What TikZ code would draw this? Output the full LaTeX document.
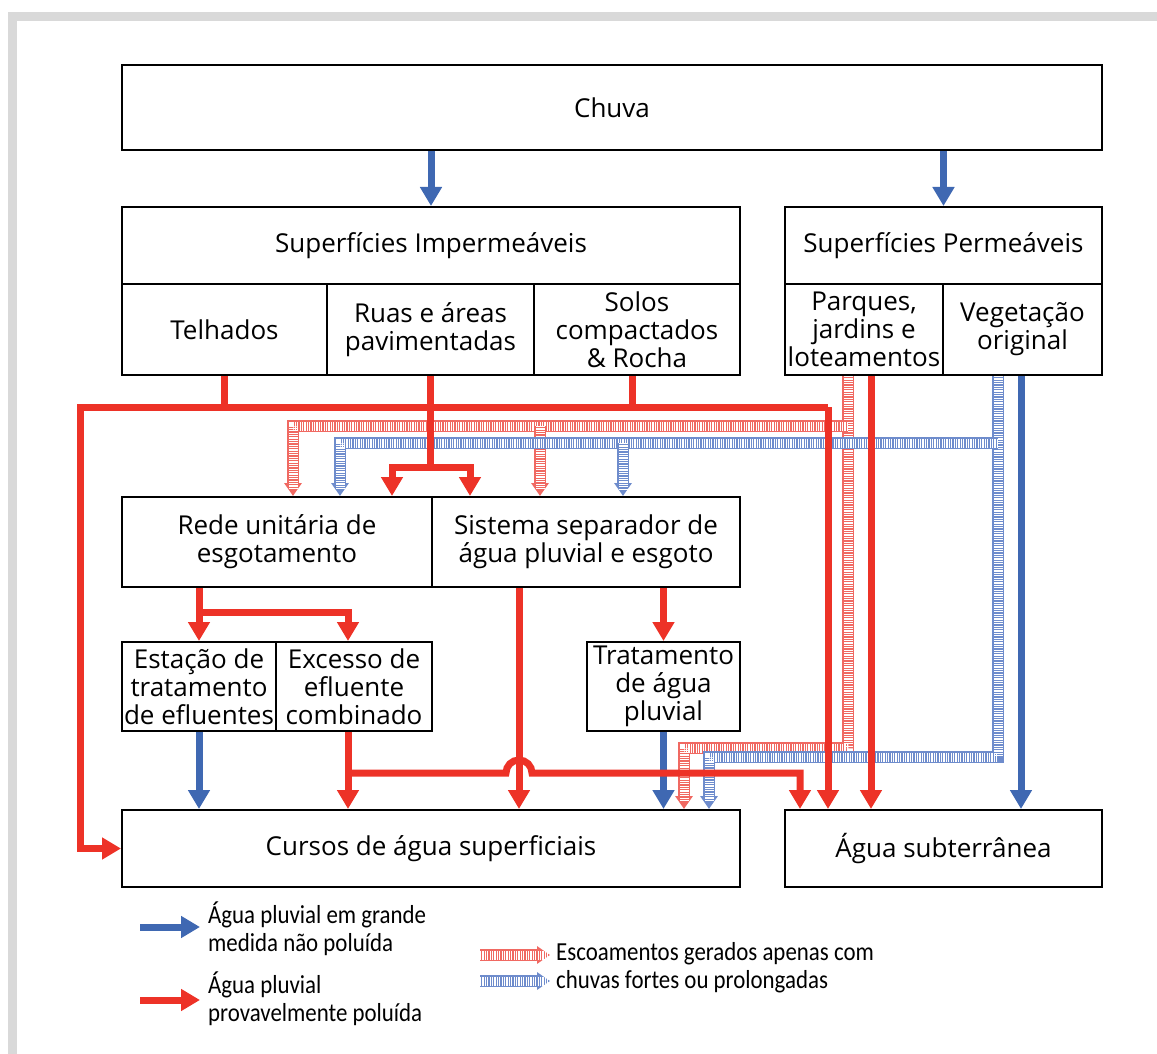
\documentclass[tikz,border=0pt]{standalone}
\usepackage{fontspec}
\setmainfont{Open Sans}
\newfontfamily\legendfont[FakeStretch=0.88]{Carlito}
\usetikzlibrary{arrows.meta}

\definecolor{rainred}{RGB}{237,50,39}
\definecolor{rainblue}{RGB}{63,104,178}
\definecolor{stormred}{RGB}{240,105,98}
\definecolor{stormblue}{RGB}{110,140,204}
\definecolor{framegray}{RGB}{217,217,217}

\begin{document}
\begin{tikzpicture}[x=1pt,y=-1pt,
    box/.style={draw, line width=2pt, inner sep=0pt, align=center,
      font=\fontsize{26}{28}\selectfont},
    legend/.style={anchor=west, inner sep=0pt, align=left,
      font=\legendfont\fontsize{26}{28}\selectfont},
    pipe/.style={draw=rainred, line width=7pt},
    polluted/.style={pipe, -{Triangle[width=21pt,length=19pt]}},
    clean/.style={draw=rainblue, line width=7pt, -{Triangle[width=21pt,length=19pt]}},
    storm/.style={line width=12pt, -{Triangle[width=17pt,length=13pt]},
      postaction={draw=white, -, line width=9pt, dash pattern=on 1.2pt off 1.2pt, shorten >=7pt}},
    stormred/.style={storm, draw=stormred},
    stormblue/.style={storm, draw=stormblue}]
  \useasboundingbox (0,0) rectangle (1157,1054);
  \fill[framegray] (8,12) rectangle (1157,21);
  \fill[framegray] (8,12) rectangle (17,1054);

  \node[box, minimum width=980pt, minimum height=85pt] (chuva) at (612,107.5) {Chuva};
  \node[box, minimum width=618pt, minimum height=77pt] (imp) at (431,245.5) {Superfícies Impermeáveis};
  \node[box, minimum width=205pt, minimum height=91pt] (telh) at (224.5,329.5) {Telhados};
  \node[box, minimum width=207pt, minimum height=91pt] (ruas) at (430.5,329.5) {Ruas e áreas\\pavimentadas};
  \node[box, minimum width=206pt, minimum height=91pt] (solos) at (637,329.5) {Solos\\compactados\\\& Rocha};
  \node[box, minimum width=317pt, minimum height=77pt] (perm) at (943.5,245.5) {Superfícies Permeáveis};
  \node[box, minimum width=158pt, minimum height=91pt] (parq) at (864,329.5) {Parques,\\jardins e\\loteamentos};
  \node[box, minimum width=159pt, minimum height=91pt] (veg) at (1022.5,329.5) {Vegetação\\original};
  \node[box, minimum width=310pt, minimum height=90pt] (rede) at (277,542) {Rede unitária de\\esgotamento};
  \node[box, minimum width=308pt, minimum height=90pt] (sist) at (586,542) {Sistema separador de\\água pluvial e esgoto};
  \node[box, minimum width=154pt, minimum height=89pt] (est) at (199,686.5) {Estação de\\tratamento\\de efluentes};
  \node[box, minimum width=156pt, minimum height=89pt] (exc) at (354,686.5) {Excesso de\\efluente\\combinado};
  \node[box, minimum width=153pt, minimum height=89pt] (trat) at (663.5,686.5) {Tratamento\\de água\\pluvial};
  \node[box, minimum width=618pt, minimum height=77pt] (cursos) at (431,848.5) {Cursos de água superficiais};
  \node[box, minimum width=317pt, minimum height=77pt] (subt) at (943.5,848.5) {Água subterrânea};

  % rain
  \draw[clean] (imp.north |- chuva.south) -- (imp.north);
  \draw[clean] (perm.north |- chuva.south) -- (perm.north);

  % heavy rain only
  \coordinate (pkR) at (848,426);
  \coordinate (bkR) at (998,443);
  \draw[stormred] (parq.south -| pkR) |- (684,748) -- (684,0 |- cursos.north);
  \draw[stormred] (pkR) -| (293,0 |- rede.north);
  \draw[stormred] (540,0 |- pkR) -- (540,0 |- sist.north);
  \draw[stormblue] (veg.south -| bkR) |- (709,757) -- (709,0 |- cursos.north);
  \draw[stormblue] (bkR) -| (340,0 |- rede.north);
  \draw[stormblue] (623,0 |- bkR) -- (623,0 |- sist.north);

  % runoff from the surfaces
  \coordinate (jL) at (80,407);
  \coordinate (jR) at (828,407);
  \coordinate (jS) at (ruas.south |- 0,467);
  \draw[pipe] (telh.south) -- (telh.south |- jL);
  \draw[pipe] ([xshift=-5pt]solos.south) -- ([xshift=-5pt]solos.south |- jL);
  \draw[polluted] (jR) -- (jL) |- (cursos.west);
  \draw[polluted] (jR) -- (jR |- subt.north);
  \draw[pipe] (ruas.south) -- (jS);
  \draw[polluted] (jS) -| (392,0 |- rede.north);
  \draw[polluted] (jS) -| (470,0 |- sist.north);
  \draw[polluted] (parq.south -| 871,0) -- (871,0 |- subt.north);
  \draw[clean] (veg.south -| 1021,0) -- (1021,0 |- subt.north);

  % sewer systems
  \coordinate (jE) at (est.north |- 0,612);
  \draw[polluted] (est.north |- rede.south) -- (est.north);
  \draw[polluted] (jE) -| (348,0 |- exc.north);
  \draw[polluted] (519,0 |- sist.south) -- (519,0 |- cursos.north);
  \draw[polluted] (trat.north |- sist.south) -- (trat.north);
  \draw[clean] (est.south) -- (est.south |- cursos.north);
  \draw[clean] (trat.south) -- (trat.south |- cursos.north);
  \draw[polluted] (348,0 |- exc.south) -- (348,0 |- cursos.north);
  \draw[polluted] (348,773) -- (506,773) arc[start angle=180, end angle=360, radius=13]
    -- (800,773) -- (800,0 |- subt.north);

  % legend
  \node[legend] (lclean) at (208,929) {Água pluvial em grande\\medida não poluída};
  \node[legend] (ldirty) at (208,999) {Água pluvial\\provavelmente poluída};
  \node[legend] (lstorm) at (556,968) {Escoamentos gerados apenas com\\chuvas fortes ou prolongadas};
  \draw[clean, shorten >=8pt] (140,927) -- (lclean.west |- 0,927);
  \draw[polluted, shorten >=8pt] (140,1000) -- (ldirty.west |- 0,1000);
  \draw[stormred, shorten >=6pt] (480,955) -- (lstorm.west |- 0,955);
  \draw[stormblue, shorten >=6pt] (480,981) -- (lstorm.west |- 0,981);
\end{tikzpicture}
\end{document}
